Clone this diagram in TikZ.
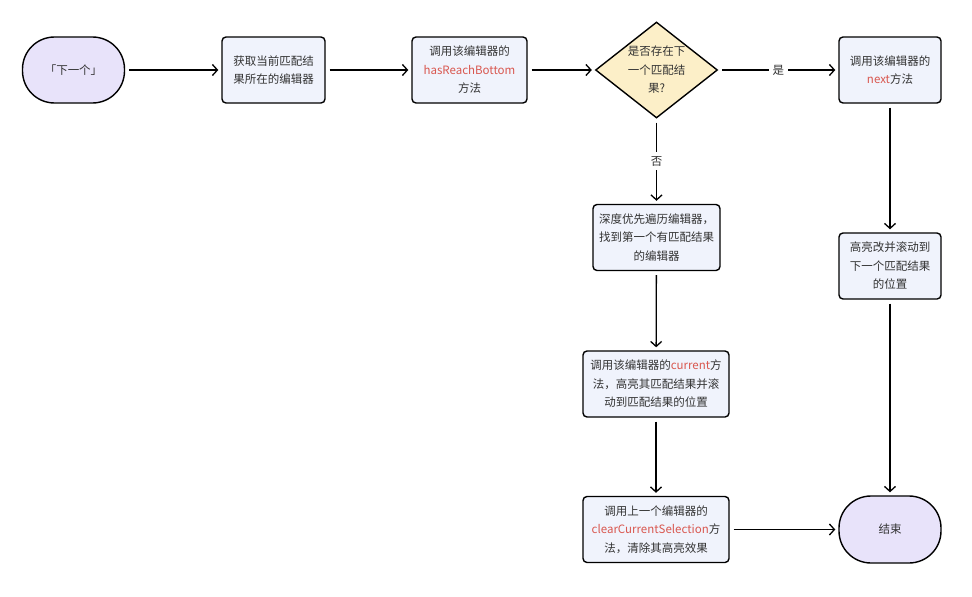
\documentclass[tikz,border=0pt]{standalone}
\usepackage{fontspec}
\setmainfont{Noto Sans CJK SC}
\usetikzlibrary{shapes.geometric,arrows.meta}
\definecolor{inkgray}{HTML}{333333}
\definecolor{codered}{HTML}{D9574F}
\definecolor{termfill}{HTML}{E8E3FA}
\definecolor{boxfill}{HTML}{F0F3FC}
\definecolor{decfill}{HTML}{FCEFC8}
\newcommand{\code}[1]{\textcolor{codered}{#1}}

\begin{document}
\begin{tikzpicture}[x=1pt,y=-1pt,
    every node/.style={font=\fontsize{11.5}{18.5}\selectfont, text=inkgray, align=center},
    terminal/.style={draw, line width=1.4pt, fill=termfill, rounded corners=32pt, minimum width=102pt, minimum height=66pt},
    stepbox/.style={draw, line width=1.4pt, fill=boxfill, rounded corners=4pt, minimum height=66pt, inner sep=1pt},
    decision/.style={diamond, draw, line width=1.4pt, fill=decfill, minimum width=122pt, minimum height=96pt, inner sep=0pt},
    flow/.style={-{Straight Barb[length=5pt,width=11pt]}, line width=1.3pt, shorten <=4pt, shorten >=3pt}]
        \useasboundingbox (0,0) rectangle (972,597);

        \node[terminal] (start) at (73.5,70) {「下一个」};
        \node[stepbox, minimum width=103pt] (locate) at (273.5,70) {获取当前匹配结\\果所在的编辑器};
        \node[stepbox, minimum width=115pt] (reach) at (469.5,70) {调用该编辑器的\\\code{hasReachBottom}\\方法};
        \node[decision, label=center:{是否存在下\\一个匹配结\\果?}] (hasnext) at (656.5,70) {};
        \node[stepbox, minimum width=102pt] (callnext) at (890,70) {调用该编辑器的\\\code{next}方法};

        \node[stepbox, minimum width=127pt] (dfs) at (656.5,237.5) {深度优先遍历编辑器，\\找到第一个有匹配结果\\的编辑器};
        \node[stepbox, minimum width=102pt] (highlight) at (890,266) {高亮改并滚动到\\下一个匹配结果\\的位置};
        \node[stepbox, minimum width=146pt] (current) at (656,384) {调用该编辑器的\code{current}方\\法，高亮其匹配结果并滚\\动到匹配结果的位置};
        \node[stepbox, minimum width=146pt] (clear) at (656,529.5) {调用上一个编辑器的\\\code{clearCurrentSelection}方\\法，清除其高亮效果};
        \node[terminal, minimum height=67pt] (finish) at (890,529.5) {结束};

        \draw[flow] (start) -- (locate);
        \draw[flow] (locate) -- (reach);
        \draw[flow] (reach) -- (hasnext);
        \draw[flow] (hasnext) -- node[fill=white, inner sep=4pt] {是} (callnext);
        \draw[flow] (hasnext) -- node[fill=white, inner sep=4pt] {否} (dfs);
        \draw[flow] (callnext) -- (highlight);
        \draw[flow] (highlight) -- (finish);
        \draw[flow] (dfs) -- (current);
        \draw[flow] (current) -- (clear);
        \draw[flow] (clear) -- (finish);
    \end{tikzpicture}
\end{document}
